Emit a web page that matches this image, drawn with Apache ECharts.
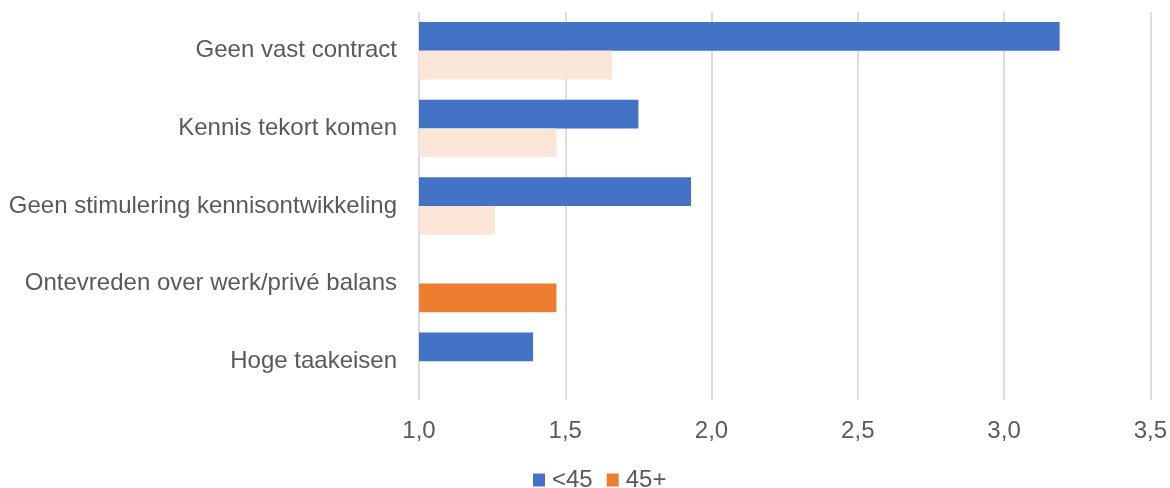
<!DOCTYPE html>
<html>
<head>
<meta charset="utf-8">
<script src="https://cdn.jsdelivr.net/npm/echarts@6/dist/echarts.min.js"></script>
<style>
  html, body { margin: 0; padding: 0; background: #fff; }
  #chart { width: 1170px; height: 488px; }
</style>
</head>
<body>
<div id="chart"></div>
<script>
// Categories, top to bottom
const categories = [
  'Geen vast contract',
  'Kennis tekort komen',
  'Geen stimulering kennisontwikkeling',
  'Ontevreden over werk/privé balans',
  'Hoge taakeisen'
];
const seriesNames = ['<45', '45+'];
const youngValues = [3.19, 1.75, 1.93, 1.0, 1.39];
const olderValues = [1.66, 1.47, 1.26, 1.47, 1.0];
// Bars of the 45+ group drawn in the pale tint
const olderMuted = [true, true, true, false, false];
const xTicks = [1.0, 1.5, 2.0, 2.5, 3.0, 3.5];

const BLUE = '#4472C4';
const ORANGE = '#ED7D31';
const PEACH = '#FBE5D6';
const TEXT = '#595959';
const FONT = 'Liberation Sans, Arial, sans-serif';
const FS = 24;

const chart = echarts.init(document.getElementById('chart'), null, { renderer: 'canvas' });

chart.setOption({
  animation: false,
  textStyle: { fontFamily: FONT },
  grid: { left: 419, right: 19, top: 12, bottom: 88, containLabel: false },
  legend: {
    data: seriesNames,
    left: 533,
    top: 468,
    padding: 0,
    itemWidth: 12,
    itemHeight: 13,
    itemGap: 14,
    icon: 'rect',
    textStyle: { color: TEXT, fontSize: FS, fontFamily: FONT, padding: [0, 0, 0, 2] }
  },
  xAxis: {
    type: 'value',
    min: xTicks[0],
    max: xTicks[xTicks.length - 1],
    interval: 0.5,
    axisLine: { show: false },
    axisTick: { show: false },
    splitLine: { show: true, lineStyle: { color: '#DCDCDC', width: 2 } },
    axisLabel: {
      color: TEXT,
      fontSize: FS,
      fontFamily: FONT,
      margin: 19,
      formatter: v => v.toFixed(1).replace('.', ',')
    }
  },
  yAxis: {
    type: 'category',
    data: categories,
    inverse: true,
    axisLine: { show: false },
    axisTick: { show: false },
    axisLabel: { color: TEXT, fontSize: FS, fontFamily: FONT, margin: 22 }
  },
  series: [
    {
      name: seriesNames[0],
      type: 'bar',
      data: youngValues,
      itemStyle: { color: BLUE },
      barGap: '0%',
      barCategoryGap: '26%',
      clip: true
    },
    {
      name: seriesNames[1],
      type: 'bar',
      data: olderValues.map((v, i) => ({
        value: v,
        itemStyle: { color: olderMuted[i] ? PEACH : ORANGE }
      })),
      itemStyle: { color: ORANGE },
      clip: true
    }
  ]
});
</script>
</body>
</html>
